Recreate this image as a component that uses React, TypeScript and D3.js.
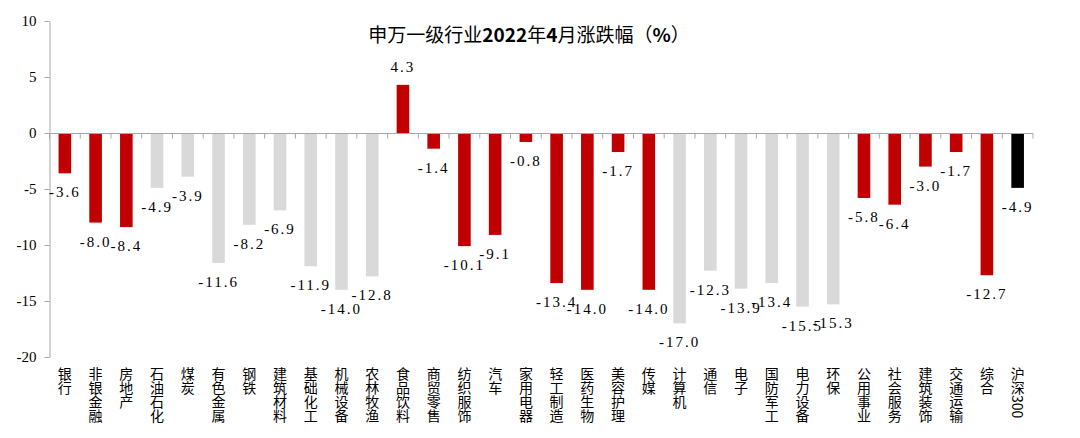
import React, { useEffect, useRef } from 'react';
import * as d3 from 'd3';

const categories = [
  '银行', '非银金融', '房地产', '石油石化', '煤炭', '有色金属', '钢铁', '建筑材料',
  '基础化工', '机械设备', '农林牧渔', '食品饮料', '商贸零售', '纺织服饰', '汽车', '家用电器',
  '轻工制造', '医药生物', '美容护理', '传媒', '计算机', '通信', '电子', '国防军工',
  '电力设备', '环保', '公用事业', '社会服务', '建筑装饰', '交通运输', '综合', '沪深300',
];

const values = [
  -3.6, -8.0, -8.4, -4.9, -3.9, -11.6, -8.2, -6.9,
  -11.9, -14.0, -12.8, 4.3, -1.4, -10.1, -9.1, -0.8,
  -13.4, -14.0, -1.7, -14.0, -17.0, -12.3, -13.9, -13.4,
  -15.5, -15.3, -5.8, -6.4, -3.0, -1.7, -12.7, -4.9,
];

// 'r' = highlighted, 'g' = grey, 'b' = benchmark
const groups = [
  'r', 'r', 'r', 'g', 'g', 'g', 'g', 'g',
  'g', 'g', 'g', 'r', 'r', 'r', 'r', 'r',
  'r', 'r', 'r', 'r', 'g', 'g', 'g', 'g',
  'g', 'g', 'r', 'r', 'r', 'r', 'r', 'b',
];

const yTicks = [-20, -15, -10, -5, 0, 5, 10];

const title = '申万一级行业2022年4月涨跌幅（%）';

const App = () => {
  const svgRef = useRef<SVGSVGElement>(null);

  useEffect(() => {
    const W = 1080;
    const H = 438;
    const left = 49.5;
    const right = 1033;
    const top = 21;
    const bottom = 357;

    const svg = d3.select(svgRef.current).attr('width', W).attr('height', H);
    svg.selectAll('*').remove();

    const data = categories.map((c, i) => ({ c, v: values[i], g: groups[i] }));

    const x = d3.scaleBand<string>()
      .domain(categories)
      .range([left, right])
      .paddingInner(0.59)
      .paddingOuter(0.295);

    const y = d3.scaleLinear().domain([-20, 10]).range([bottom, top]);

    const color = d3.scaleOrdinal<string, string>()
      .domain(['r', 'g', 'b'])
      .range(['#C00000', '#D9D9D9', '#000000']);

    const axisColor = '#A6A6A6';

    // bars
    svg.append('g')
      .selectAll('rect')
      .data(data)
      .enter().append('rect')
      .attr('x', d => x(d.c)!)
      .attr('y', d => y(Math.max(0, d.v)))
      .attr('width', x.bandwidth())
      .attr('height', d => Math.abs(y(d.v) - y(0)))
      .attr('fill', d => color(d.g));

    // y axis
    const yAxis = svg.append('g')
      .attr('transform', `translate(${left},0)`)
      .call(d3.axisLeft(y).tickValues(yTicks).tickSize(5).tickSizeOuter(0).tickPadding(8).tickFormat(d => String(d)));
    yAxis.select('.domain').attr('stroke', axisColor);
    yAxis.selectAll('.tick line').attr('stroke', axisColor);
    yAxis.selectAll('.tick text')
      .attr('fill', '#000')
      .style('font-family', '"Liberation Serif", serif')
      .style('font-size', '15px');

    // zero line with category ticks
    const y0 = Math.round(y(0)) + 0.5;
    svg.append('line')
      .attr('x1', left).attr('x2', right)
      .attr('y1', y0).attr('y2', y0)
      .attr('stroke', axisColor);
    const gap = (x.step() - x.bandwidth()) / 2;
    const bounds = categories.map(c => x(c)! - gap).concat([right]);
    svg.append('g')
      .selectAll('line')
      .data(bounds)
      .enter().append('line')
      .attr('x1', d => d).attr('x2', d => d)
      .attr('y1', y0).attr('y2', y0 + 5)
      .attr('stroke', axisColor);

    // value labels
    svg.append('g')
      .selectAll('text')
      .data(data)
      .enter().append('text')
      .attr('x', d => x(d.c)! + x.bandwidth() / 2)
      .attr('y', d => y(d.v) + (d.v < 0 ? 19 : -18))
      .attr('text-anchor', 'middle')
      .attr('dominant-baseline', 'central')
      .style('font-family', '"Liberation Serif", serif')
      .style('font-size', '15px')
      .style('letter-spacing', '2px')
      .attr('fill', '#000')
      .text(d => d.v.toFixed(1));

    // category labels (vertical)
    svg.append('g')
      .selectAll('text')
      .data(data)
      .enter().append('text')
      .attr('x', d => x(d.c)! + x.bandwidth() / 2)
      .attr('y', 367)
      .style('writing-mode', 'vertical-rl')
      .style('font-family', '"Noto Sans CJK SC", sans-serif')
      .style('font-size', '14px')
      .attr('fill', '#000')
      .text(d => d.c);

    // title
    const t = svg.append('text')
      .attr('x', 529)
      .attr('y', 33)
      .attr('text-anchor', 'middle')
      .attr('dominant-baseline', 'central')
      .style('font-family', '"Noto Sans CJK SC", sans-serif')
      .style('font-size', '19px')
      .attr('fill', '#000');
    const parts = title.split(/(\d+|%)/).filter(s => s.length);
    parts.forEach(p => {
      t.append('tspan')
        .style('font-weight', /^(\d+|%)$/.test(p) ? 'bold' : 'normal')
        .text(p);
    });
  }, []);

  return (
    <svg
      ref={svgRef}
      style={{ position: 'absolute', left: 0, top: 0, display: 'block', background: '#fff' }}
    />
  );
};

export default App;
